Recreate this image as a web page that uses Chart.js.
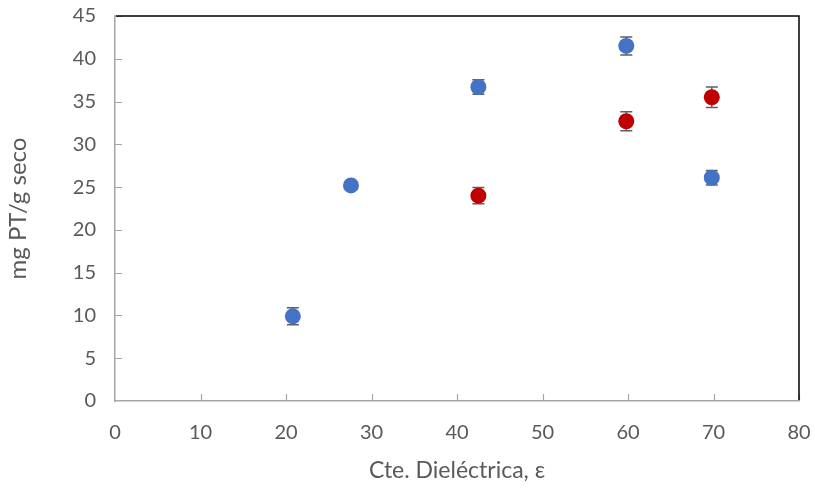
<!DOCTYPE html>
<html>
<head>
<meta charset="utf-8">
<script src="https://cdn.jsdelivr.net/npm/chart.js@4.4.1/dist/chart.umd.min.js"></script>
<style>
  html, body { margin: 0; padding: 0; background: #ffffff; }
  #wrap { width: 815px; height: 488px; position: relative; }
</style>
</head>
<body>
<div id="wrap"><canvas id="c" width="815" height="488"></canvas></div>
<script>
// ---- data ----
const blueX   = [20.8, 27.6, 42.5, 59.8, 69.8];
const blueY   = [9.9, 25.2, 36.7, 41.5, 26.1];
const blueErr = [1.0, 0.4, 0.85, 1.05, 0.85];

const redX    = [42.5, 59.8, 69.8];
const redY    = [24.0, 32.7, 35.5];
const redErr  = [0.95, 1.1, 1.2];

const xTitle = 'Cte. Dieléctrica, ε';
const yTitle = 'mg PT/g seco';
const xMin = 0, xMax = 80, xStep = 10;
const yMin = 0, yMax = 45, yStep = 5;

const toPts = (xs, ys, es) => xs.map((x, i) => ({ x: x, y: ys[i], err: es[i] }));

const FONT = 'Lato, "Open Sans", sans-serif';
const TXT = '#595959';
const AXIS = '#a6a6a6';

const errorBars = {
  id: 'errorBars',
  beforeDatasetsDraw(chart) {
    const ctx = chart.ctx;
    const xs = chart.scales.x, ys = chart.scales.y;
    ctx.save();
    ctx.strokeStyle = '#5f5f5f';
    ctx.lineWidth = 1.5;
    chart.data.datasets.forEach(ds => {
      ds.data.forEach(p => {
        const px = xs.getPixelForValue(p.x);
        const top = ys.getPixelForValue(p.y + p.err);
        const bot = ys.getPixelForValue(p.y - p.err);
        const cw = 6;
        ctx.beginPath();
        ctx.moveTo(px, top); ctx.lineTo(px, bot);
        ctx.moveTo(px - cw, top); ctx.lineTo(px + cw, top);
        ctx.moveTo(px - cw, bot); ctx.lineTo(px + cw, bot);
        ctx.stroke();
      });
    });
    ctx.restore();
  }
};

const frame = {
  id: 'frame',
  beforeDatasetsDraw(chart) {
    const { ctx, chartArea: a } = chart;
    const xs = chart.scales.x, ys = chart.scales.y;
    ctx.save();
    ctx.strokeStyle = AXIS;
    ctx.lineWidth = 1.2;
    ctx.beginPath();
    xs.ticks.forEach(t => {
      if (t.value === xMin) return;
      const px = Math.round(xs.getPixelForValue(t.value)) + 0.5;
      ctx.moveTo(px, a.bottom); ctx.lineTo(px, a.bottom - 7);
    });
    ys.ticks.forEach(t => {
      if (t.value === yMin) return;
      const py = Math.round(ys.getPixelForValue(t.value)) + 0.5;
      ctx.moveTo(a.left, py); ctx.lineTo(a.left + 7, py);
    });
    ctx.stroke();
    ctx.strokeStyle = '#000000';
    ctx.lineWidth = 1.5;
    ctx.beginPath();
    ctx.moveTo(a.left + 1, a.top);
    ctx.lineTo(a.right, a.top);
    ctx.lineTo(a.right, a.bottom - 1);
    ctx.stroke();
    ctx.restore();
  }
};

function zeroPad(s) { s.paddingLeft = 0; s.paddingRight = 0; s.paddingTop = 0; s.paddingBottom = 0; }

new Chart(document.getElementById('c'), {
  type: 'scatter',
  data: {
    datasets: [
      { label: 'A', data: toPts(blueX, blueY, blueErr), backgroundColor: '#4472c4', borderWidth: 0, pointRadius: 8, pointHoverRadius: 8 },
      { label: 'B', data: toPts(redX, redY, redErr), backgroundColor: '#c00000', borderWidth: 0, pointRadius: 8, pointHoverRadius: 8 }
    ]
  },
  options: {
    responsive: false,
    animation: false,
    events: [],
    layout: { padding: { top: 16, right: 16, left: 0, bottom: 0 } },
    plugins: { legend: { display: false }, tooltip: { enabled: false } },
    scales: {
      x: {
        type: 'linear', min: xMin, max: xMax,
        afterFit(s) { s.height = 87; zeroPad(s); },
        ticks: { stepSize: xStep, color: TXT, font: { family: FONT, size: 20 }, padding: 20, maxRotation: 0 },
        grid: { display: false, drawTicks: false },
        border: { display: true, color: AXIS, width: 1.5 },
        title: { display: true, text: xTitle, color: TXT, font: { family: FONT, size: 23 }, padding: { top: 0, bottom: 4 } }
      },
      y: {
        type: 'linear', min: yMin, max: yMax,
        afterFit(s) { s.width = 115; zeroPad(s); },
        ticks: { stepSize: yStep, color: TXT, font: { family: FONT, size: 20 }, padding: 19 },
        grid: { display: false, drawTicks: false },
        border: { display: true, color: AXIS, width: 1.5 },
        title: { display: true, text: yTitle, color: TXT, font: { family: FONT, size: 24 }, padding: { top: 4, bottom: 0 } }
      }
    }
  },
  plugins: [errorBars, frame]
});
</script>
</body>
</html>
